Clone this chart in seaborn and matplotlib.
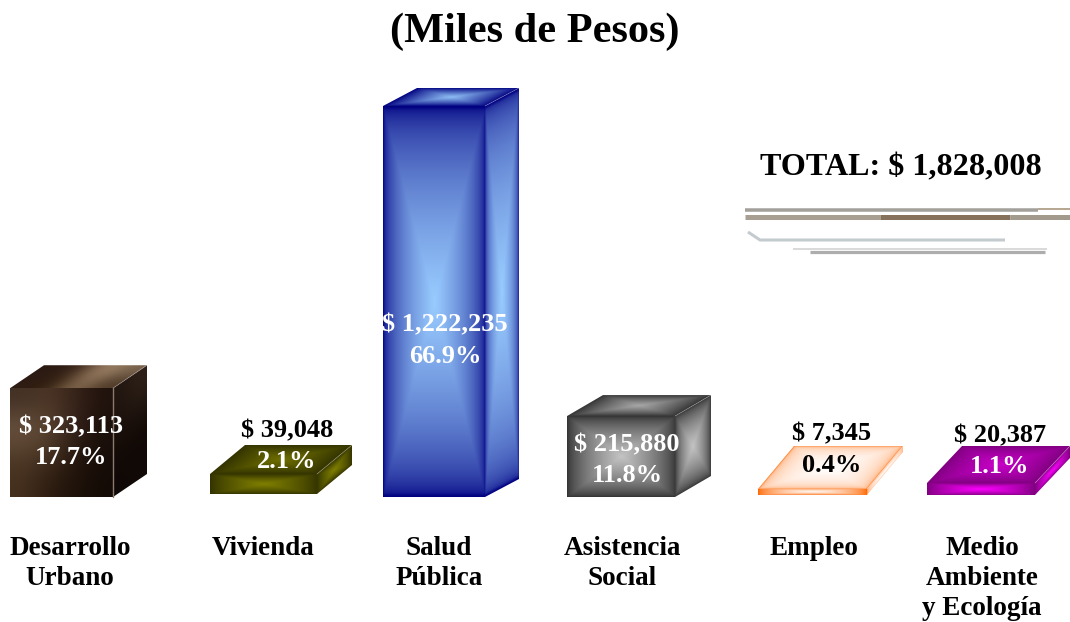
import numpy as np
import pandas as pd
import seaborn as sns
import matplotlib.pyplot as plt
from matplotlib.colors import to_rgb
from matplotlib.lines import Line2D
from matplotlib.patches import Polygon
from matplotlib.transforms import Affine2D

# datos
sectores = ['Desarrollo\nUrbano', 'Vivienda', 'Salud\nPública', 'Asistencia\nSocial', 'Empleo',
            'Medio\nAmbiente\ny Ecología']
montos = [323113, 39048, 1222235, 215880, 7345, 20387]
porcentajes = [17.7, 2.1, 66.9, 11.8, 0.4, 1.1]
# la altura dibujada no es proporcional al monto, se lee del dibujo
alturas = [340000, 62500, 1222235, 253000, 18800, 37500]
total = 1828008

# estilo y posicion en pixeles
W, H = 1070, 622
PASO = 184.1
BASE = 497
X_POR_PX = 1 / PASO
Y_POR_PX = 1222235 / 391
ancho_px = [103, 107, 102, 108, 109, 108]
desvio_px = [0, 17.9, 4.3, 7.2, 14.6, -1]
alza_px = [0, 3, 0, 0, 2, 2]
fondo_px = [(34, 23), (35, 29), (34, 18), (36, 21), (36, 43), (35, 37)]
bordes = ['#2a180c', '#333300', '#000080', '#333333', '#ff6600', '#800080']
centros = [None, '#808000', '#99ccff', '#c4c4c4', '#ffffff', '#ff00ff']
centros_arriba = [None, '#6f6f00', '#8fc0f5', '#a8a8a8', '#ffffff', '#c800c8']
curva_frente = [None, 0.8, 0.5, 0.7, 0.6, 0.8]
curva_lado = [None, 0.8, 0.35, 0.6, 0.2, 0.8]
curva_arriba = [None, 0.9, 0.8, 0.8, 0.15, 0.8]
etiq_x = [71, 287, 445, 627, 832, 1000]
etiq_y = [(433, 464), (437, 468), (331, 363), (451, 482), (440, 472), (442, 473)]
etiq_color = [('white', 'white'), ('black', 'white'), ('white', 'white'), ('white', 'white'),
              ('black', 'black'), ('black', 'white')]
cat_x = [70, 263, 439, 622, 814, 982]
FUENTE = 'Liberation Serif'


def degradado(borde, centro, p=0.7, n=160):
    # degradado rectangular, oscuro en el borde y claro al centro
    u, v = np.meshgrid(np.linspace(-1, 1, n), np.linspace(-1, 1, n))
    t = np.maximum(np.abs(u), np.abs(v))
    s = ((1 - t) ** p)[..., None]
    return np.array(to_rgb(borde)) * (1 - s) + np.array(to_rgb(centro)) * s


def cuadricula(filas):
    # filas de abajo hacia arriba
    return np.array([[to_rgb(c) for c in fila] for fila in filas])


def cara(ax, img, p0, pu, pv):
    p0, pu, pv = np.array(p0), np.array(pu), np.array(pv)
    m = np.array([[pu[0] - p0[0], pv[0] - p0[0], p0[0]],
                  [pu[1] - p0[1], pv[1] - p0[1], p0[1]],
                  [0, 0, 1]])
    im = ax.imshow(img, extent=(0, 1, 0, 1), origin='lower', aspect='auto', interpolation='bicubic',
                   transform=Affine2D(m) + ax.transData, zorder=3)
    marco = Polygon([p0, pu, pu + pv - p0, pv], closed=True, fill=False, edgecolor='none')
    ax.add_patch(marco)
    im.set_clip_path(marco)


def escribir(ax, x, y, s, size=19.5, color='black'):
    ax.text(x / W, 1 - y / H, s, transform=ax.transAxes, family=FUENTE, weight='bold', fontsize=size,
            color=color, ha='center', va='baseline', zorder=6)


sns.set_theme(style='white')
df = pd.DataFrame({'sector': sectores, 'altura': alturas})

fig = plt.figure(figsize=(W / 100, H / 100), dpi=100)
ax = fig.add_axes([0, 0, 1, 1])
sns.barplot(data=df, x='sector', y='altura', hue='sector', palette=bordes, saturation=1, width=0.58,
            legend=False, ax=ax)

for i, barra in enumerate(ax.patches):
    centro = barra.get_x() + barra.get_width() / 2 + desvio_px[i] * X_POR_PX
    ancho = ancho_px[i] * X_POR_PX
    barra.set_x(centro - ancho / 2)
    barra.set_width(ancho)
    barra.set_y(alza_px[i] * Y_POR_PX)
    x0, y0, alto = barra.get_x(), barra.get_y(), barra.get_height()
    x1, y1 = x0 + ancho, y0 + alto
    dx, dy = fondo_px[i][0] * X_POR_PX, fondo_px[i][1] * Y_POR_PX

    if i == 0:
        frente = cuadricula([['#46301e', '#2c1c10', '#1e120a', '#140b06'],
                             ['#4e3a28', '#453020', '#26170d', '#170d08'],
                             ['#6e5642', '#5e4834', '#32201a', '#1a0f0a'],
                             ['#423024', '#4c3626', '#38241a', '#20120c']])
        lado = cuadricula([['#0e0806', '#120a06'], ['#170d08', '#120906'], ['#221610', '#30221a']])
        arriba = cuadricula([['#2e1c14', '#33200f', '#8f7358', '#4e3a28'],
                             ['#2a1a12', '#3a2418', '#a98c6e', '#7a644e']])
    else:
        frente = degradado(bordes[i], centros[i], p=curva_frente[i])
        lado = degradado(bordes[i], centros[i], p=curva_lado[i])
        arriba = degradado(bordes[i], centros_arriba[i], p=curva_arriba[i])
    cara(ax, frente, (x0, y0), (x1, y0), (x0, y1))
    cara(ax, lado, (x1, y0), (x1 + dx, y0 + dy), (x1, y1))
    cara(ax, arriba, (x0, y1), (x1, y1), (x0 + dx, y1 + dy))
    ax.plot([x1, x1 + dx], [y1, y1 + dy], color='white', alpha=0.25, lw=0.6, zorder=4)
    if i == 0:
        ax.plot([x1, x1], [y0, y1], color='#8a7a70', lw=1.0, zorder=4)

ax.set_xlim(-61.5 / PASO, (W - 61.5) / PASO)
ax.set_ylim(-(H - BASE) * Y_POR_PX, BASE * Y_POR_PX)
ax.axis('off')

escribir(ax, 535, 42, '(Miles de Pesos)', size=30.5)
escribir(ax, 901, 175, f'TOTAL: $ {total:,}', size=23.1)

for i, s in enumerate(sectores):
    for j, linea in enumerate(s.split('\n')):
        escribir(ax, cat_x[i], 555 + 30 * j, linea)
    escribir(ax, etiq_x[i], etiq_y[i][0], f'$ {montos[i]:,}', size=19, color=etiq_color[i][0])
    escribir(ax, etiq_x[i], etiq_y[i][1], f'{porcentajes[i]}%', size=19, color=etiq_color[i][1])

# rayas grises junto al total
rayas = [([745, 1038], [210, 210], '#a3a09c', 3.5), ([1038, 1070], [209, 209], '#a08a70', 1.5),
         ([745, 880], [217, 217], '#a89f92', 5), ([880, 1010], [217, 217], '#85715c', 5),
         ([1010, 1070], [217, 217], '#a39a8e', 5),
         ([748, 760, 1005], [232, 240, 240], '#c3cbce', 3),
         ([793, 1047], [249, 249], '#cfcfcf', 1.5), ([810, 1045], [252, 252], '#adadad', 3.2)]
for xs, ys, color, lw in rayas:
    fig.add_artist(Line2D(np.array(xs) / W, 1 - np.array(ys) / H, color=color, lw=lw * 0.72,
                          transform=fig.transFigure, solid_capstyle='butt'))

fig.savefig('out.png', dpi=100, facecolor='white')
